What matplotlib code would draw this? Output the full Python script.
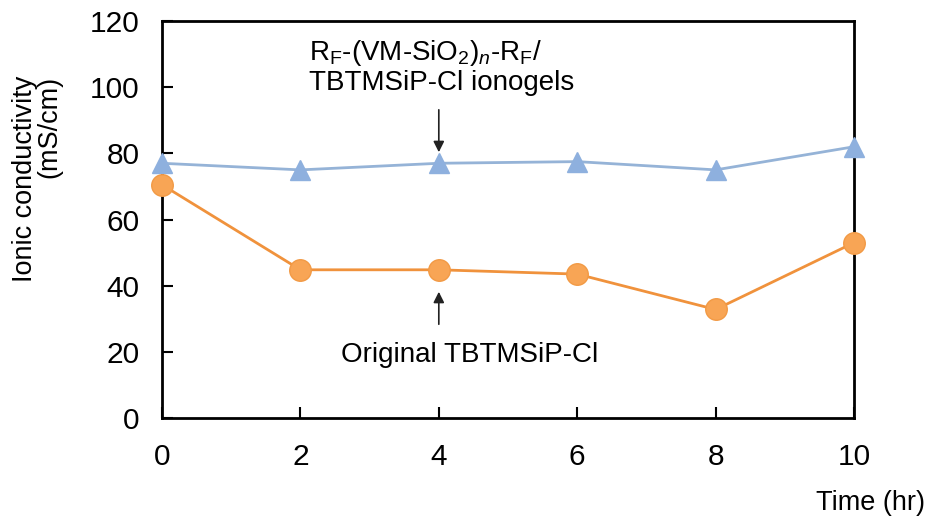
import matplotlib
matplotlib.use("Agg")
import matplotlib.pyplot as plt

plt.rcParams['font.family'] = ['Liberation Sans', 'DejaVu Sans']
plt.rcParams['mathtext.fontset'] = 'custom'
plt.rcParams['mathtext.rm'] = 'Liberation Sans'
plt.rcParams['mathtext.it'] = 'Liberation Sans:italic'

time_hr = [0, 2, 4, 6, 8, 10]
ionogel = [77, 75, 77, 77.5, 75, 82]
original = [70.5, 44.8, 44.8, 43.5, 32.8, 53]

xticks = [0, 2, 4, 6, 8, 10]
yticks = [0, 20, 40, 60, 80, 100, 120]

fig = plt.figure(figsize=(9.3, 5.19), dpi=100)
ax = fig.add_axes([0.1742, 0.1946, 0.7441, 0.7649])

ax.plot(time_hr, ionogel, '-', color='#95B3D7', lw=2, marker='^', ms=15,
        mfc='#8EB0DE', mec='#8EB0DE', clip_on=False, zorder=4)
ax.plot(time_hr, original, '-', color='#F0923C', lw=2, marker='o', ms=15.5,
        mfc='#F8A555', mec='#F29A45', clip_on=False, zorder=5)

ax.set_xlim(0, 10)
ax.set_ylim(0, 120)
ax.set_xticks(xticks)
ax.set_yticks(yticks)
ax.tick_params(direction='in', length=8, width=1.5, labelsize=21.5)
ax.tick_params(axis='x', pad=18)
ax.tick_params(axis='y', pad=16)
for s in ax.spines.values():
    s.set_linewidth(2)

fig.text(0.04, 0.655, "Ionic conductivity\n(mS/cm)", rotation=90,
         ha='center', va='center', multialignment='right',
         fontsize=19.5, linespacing=0.95)
fig.text(0.995, 0.005, "Time (hr)", ha='right', va='bottom', fontsize=19.5)

ax.text(2.12, 106, r'R$_{\rm F}$-(VM-SiO$_{2}$)$_{\it n}$-R$_{\rm F}$/' + '\nTBTMSiP-Cl ionogels',
        ha='left', va='center', fontsize=20, linespacing=1.1)
ax.annotate('', xy=(4, 79.5), xytext=(4, 94),
            arrowprops=dict(arrowstyle='-|>', color='#222222', lw=1.2, mutation_scale=16))
ax.annotate('', xy=(4, 39), xytext=(4, 27.5),
            arrowprops=dict(arrowstyle='-|>', color='#222222', lw=1.2, mutation_scale=16))
ax.text(4.45, 19, 'Original TBTMSiP-Cl', ha='center', va='center', fontsize=20)

fig.savefig("out.png", dpi=100)
